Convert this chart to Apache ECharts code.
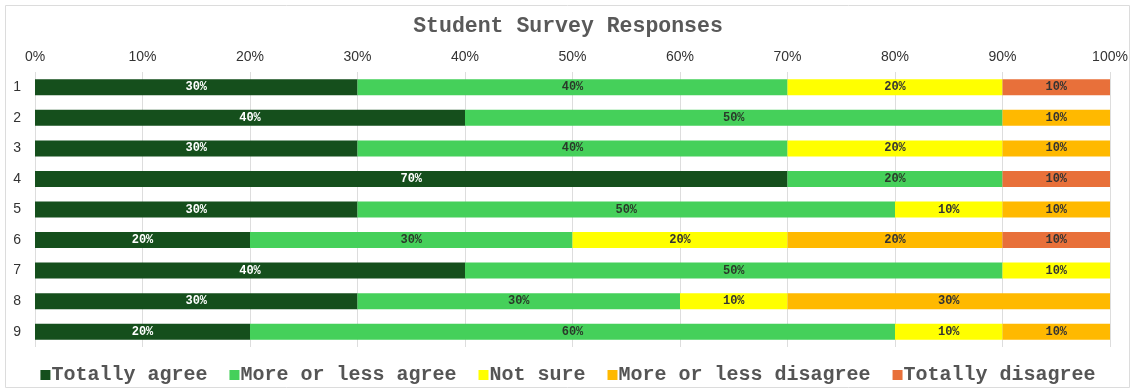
<!DOCTYPE html>
<html>
<head>
<meta charset="utf-8">
<script src="https://cdn.jsdelivr.net/npm/echarts@6/dist/echarts.min.js"></script>
<style>
html,body{margin:0;padding:0;background:#fff;}
#main{width:1136px;height:390px;}
</style>
</head>
<body>
<div id="main"></div>
<script>
var categories = ['1', '2', '3', '4', '5', '6', '7', '8', '9'];
var seriesNames = ['Totally agree', 'More or less agree', 'Not sure', 'More or less disagree', 'Totally disagree'];
var totallyAgree = [30, 40, 30, 70, 30, 20, 40, 30, 20];
var moreLessAgree = [40, 50, 40, 20, 50, 30, 50, 30, 60];
var notSure = [20, 0, 20, 0, 10, 20, 10, 10, 10];
var moreLessDisagree = [0, 10, 10, 0, 10, 20, 0, 30, 10];
var totallyDisagree = [10, 0, 0, 10, 0, 10, 0, 0, 0];
var tickLabels = ['0%', '10%', '20%', '30%', '40%', '50%', '60%', '70%', '80%', '90%', '100%'];

var colors = ['#154f1c', '#45d05a', '#ffff00', '#ffb900', '#e8703a'];
var labelColors = ['#ffffff', '#2a3a2a', '#333333', '#333333', '#333333'];
var allData = [totallyAgree, moreLessAgree, notSure, moreLessDisagree, totallyDisagree];

function makeSeries(i) {
    return {
        name: seriesNames[i],
        type: 'bar',
        stack: 'total',
        barWidth: 16,
        itemStyle: { color: colors[i] },
        label: {
            show: true,
            position: 'inside',
            fontFamily: 'Liberation Mono',
            fontWeight: 'bold',
            fontSize: 12,
            color: labelColors[i],
            formatter: function (p) { return p.value > 0 ? p.value + '%' : ''; }
        },
        data: allData[i].map(function (v) { return v > 0 ? v : null; })
    };
}

var myChart = echarts.init(document.getElementById('main'));
var option = {
    animation: false,
    backgroundColor: '#fff',
    graphic: [{
        type: 'rect',
        shape: { x: 5.5, y: 5.5, width: 1124, height: 382 },
        style: { fill: 'none', stroke: '#dcdcdc', lineWidth: 1 },
        silent: true
    }],
    title: {
        text: 'Student Survey Responses',
        left: 'center',
        top: 11,
        textStyle: {
            fontFamily: 'Liberation Mono',
            fontWeight: 'bold',
            fontSize: 21.5,
            color: '#595959'
        }
    },
    legend: {
        bottom: 0,
        left: 'center',
        itemWidth: 10,
        itemHeight: 10,
        itemGap: 22,
        icon: 'rect',
        textStyle: {
            fontFamily: 'Liberation Mono',
            fontWeight: 'bold',
            fontSize: 20,
            color: '#555',
            padding: [0, 0, 0, -4]
        },
        data: seriesNames
    },
    grid: {
        left: 35,
        right: 26,
        top: 72,
        bottom: 43
    },
    xAxis: {
        type: 'value',
        position: 'top',
        min: 0,
        max: 100,
        interval: 10,
        axisLine: { show: false },
        axisTick: { show: false },
        axisLabel: {
            fontFamily: 'Arial',
            fontSize: 14,
            color: '#333',
            margin: 8,
            formatter: function (v) { return tickLabels[v / 10]; }
        },
        splitLine: { lineStyle: { color: '#dddddd' } }
    },
    yAxis: {
        type: 'category',
        inverse: true,
        data: categories,
        axisLine: { show: false },
        axisTick: { show: false },
        axisLabel: {
            fontFamily: 'Arial',
            fontSize: 14,
            color: '#333',
            margin: 14
        }
    },
    series: [0, 1, 2, 3, 4].map(makeSeries)
};
myChart.setOption(option);
</script>
</body>
</html>
